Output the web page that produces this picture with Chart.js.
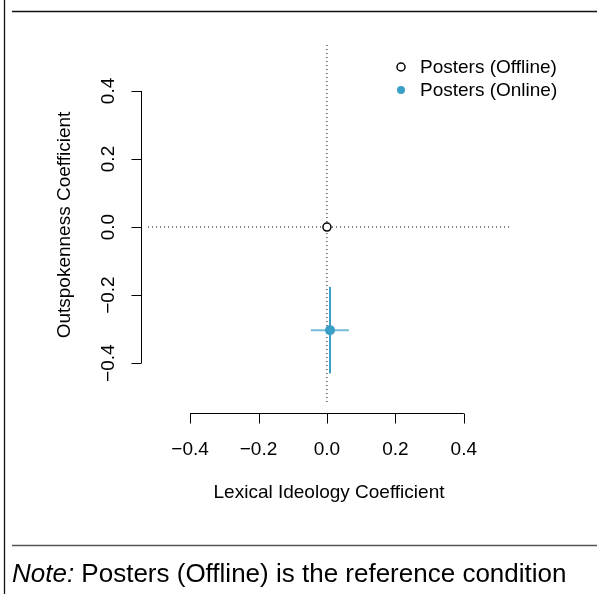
<!DOCTYPE html>
<html>
<head>
<meta charset="utf-8">
<script src="https://cdn.jsdelivr.net/npm/chart.js@4"></script>
<style>
  body { margin: 0; background: #fff; }
  canvas { display: block; }
</style>
</head>
<body>
<canvas id="myChart" width="597" height="594"></canvas>
<script>
var seriesLabels = ["Posters (Offline)", "Posters (Online)"];
var ideology = [0, 0.009];
var outspoken = [0, -0.303];
var ideologyLo = [0, -0.047];
var ideologyHi = [0, 0.064];
var outspokenLo = [0, -0.43];
var outspokenHi = [0, -0.176];
var tickValues = [-0.4, -0.2, 0, 0.2, 0.4];
var tickLabels = ["\u22120.4", "\u22120.2", "0.0", "0.2", "0.4"];
var xTitle = "Lexical Ideology Coefficient";
var yTitle = "Outspokenness Coefficient";
var blue = "#3a9fc6";
var font = "19px 'Liberation Sans', Arial, sans-serif";

// reference lines, error bars, R-style axes, legend and frame
var rPlot = {
  id: "rPlot",
  beforeDatasetsDraw: function (chart) {
    var ctx = chart.ctx, a = chart.chartArea;
    var xs = chart.scales.x, ys = chart.scales.y;
    ctx.save();
    ctx.strokeStyle = "#000";
    ctx.lineWidth = 1;
    ctx.setLineDash([1, 3]);
    ctx.beginPath();
    ctx.moveTo(a.left, ys.getPixelForValue(0));
    ctx.lineTo(a.right, ys.getPixelForValue(0));
    ctx.moveTo(xs.getPixelForValue(0), a.top);
    ctx.lineTo(xs.getPixelForValue(0), a.bottom);
    ctx.stroke();
    ctx.setLineDash([]);
    // error bars
    for (var i = 0; i < ideology.length; i++) {
      if (ideologyLo[i] === ideologyHi[i] && outspokenLo[i] === outspokenHi[i]) continue;
      var px = xs.getPixelForValue(ideology[i]), py = ys.getPixelForValue(outspoken[i]);
      ctx.lineWidth = 2;
      ctx.strokeStyle = blue;
      ctx.beginPath();
      ctx.moveTo(px, ys.getPixelForValue(outspokenLo[i]));
      ctx.lineTo(px, ys.getPixelForValue(outspokenHi[i]));
      ctx.stroke();
      ctx.globalAlpha = 0.7;
      ctx.beginPath();
      ctx.moveTo(xs.getPixelForValue(ideologyLo[i]), py);
      ctx.lineTo(xs.getPixelForValue(ideologyHi[i]), py);
      ctx.stroke();
      ctx.globalAlpha = 1;
    }
    ctx.restore();
  },
  afterDraw: function (chart) {
    var ctx = chart.ctx;
    var xs = chart.scales.x, ys = chart.scales.y;
    ctx.save();
    ctx.strokeStyle = "#000";
    ctx.fillStyle = "#000";
    ctx.lineWidth = 1;
    ctx.font = font;
    // x axis
    var axY = 413.5;
    var x0 = xs.getPixelForValue(tickValues[0]), x1 = xs.getPixelForValue(tickValues[tickValues.length - 1]);
    ctx.beginPath();
    ctx.moveTo(x0, axY); ctx.lineTo(x1, axY);
    tickValues.forEach(function (v) {
      var p = Math.round(xs.getPixelForValue(v)) + 0.5;
      ctx.moveTo(p, axY); ctx.lineTo(p, axY + 10);
    });
    ctx.stroke();
    ctx.textAlign = "center";
    ctx.textBaseline = "middle";
    tickValues.forEach(function (v, i) {
      ctx.fillText(tickLabels[i], xs.getPixelForValue(v), 450);
    });
    ctx.fillText(xTitle, (chart.chartArea.left + chart.chartArea.right) / 2, 493);
    // y axis
    var axX = 141.5;
    var y0 = ys.getPixelForValue(tickValues[0]), y1 = ys.getPixelForValue(tickValues[tickValues.length - 1]);
    ctx.beginPath();
    ctx.moveTo(axX, y0); ctx.lineTo(axX, y1);
    tickValues.forEach(function (v) {
      var p = Math.round(ys.getPixelForValue(v)) + 0.5;
      ctx.moveTo(axX, p); ctx.lineTo(axX - 10, p);
    });
    ctx.stroke();
    tickValues.forEach(function (v, i) {
      ctx.save();
      ctx.translate(109, ys.getPixelForValue(v));
      ctx.rotate(-Math.PI / 2);
      ctx.fillText(tickLabels[i], 0, 0);
      ctx.restore();
    });
    ctx.save();
    ctx.translate(65, (chart.chartArea.top + chart.chartArea.bottom) / 2);
    ctx.rotate(-Math.PI / 2);
    ctx.fillText(yTitle, 0, 0);
    ctx.restore();
    // legend
    ctx.textAlign = "left";
    var rows = [67, 90];
    seriesLabels.forEach(function (lab, i) {
      ctx.beginPath();
      ctx.arc(401, rows[i], 4, 0, Math.PI * 2);
      if (i === 0) {
        ctx.lineWidth = 1.5;
        ctx.strokeStyle = "#000";
        ctx.stroke();
      } else {
        ctx.fillStyle = blue;
        ctx.fill();
      }
      ctx.fillStyle = "#000";
      ctx.fillText(lab, 420, rows[i] + 1);
    });
    // page frame and note
    ctx.lineWidth = 1.3;
    ctx.strokeStyle = "#111";
    ctx.beginPath();
    ctx.moveTo(12, 11.5); ctx.lineTo(597, 11.5);
    ctx.moveTo(4.5, 0); ctx.lineTo(4.5, 594);
    ctx.stroke();
    ctx.strokeStyle = "#555";
    ctx.beginPath();
    ctx.moveTo(12, 545.5); ctx.lineTo(597, 545.5);
    ctx.stroke();
    ctx.textBaseline = "alphabetic";
    ctx.font = "italic 26px 'Liberation Sans', Arial, sans-serif";
    ctx.fillText("Note:", 12, 582);
    var w = ctx.measureText("Note:").width;
    ctx.font = "26px 'Liberation Sans', Arial, sans-serif";
    ctx.fillText(" Posters (Offline) is the reference condition", 12 + w, 582);
    ctx.restore();
  }
};

new Chart("myChart", {
  type: "scatter",
  data: {
    datasets: [
      {
        label: seriesLabels[0],
        data: ideology.slice(0, 1).map(function (v, i) { return { x: v, y: outspoken[i] }; }),
        pointRadius: 4,
        pointBackgroundColor: "#fff",
        pointBorderColor: "#000",
        pointBorderWidth: 1.5,
      },
      {
        label: seriesLabels[1],
        data: ideology.slice(1).map(function (v, i) { return { x: v, y: outspoken[i + 1] }; }),
        pointRadius: 5,
        pointBackgroundColor: blue,
        pointBorderColor: blue,
        pointBorderWidth: 0,
      },
    ],
  },
  options: {
    responsive: false,
    animation: false,
    layout: { padding: { left: 148, right: 87, top: 45, bottom: 189 } },
    scales: {
      x: { type: "linear", min: -0.523, max: 0.535, display: false },
      y: { type: "linear", min: -0.523, max: 0.535, display: false },
    },
    plugins: {
      legend: { display: false },
      tooltip: { enabled: false },
      title: { display: false },
    },
  },
  plugins: [rPlot],
});
</script>
</body>
</html>
